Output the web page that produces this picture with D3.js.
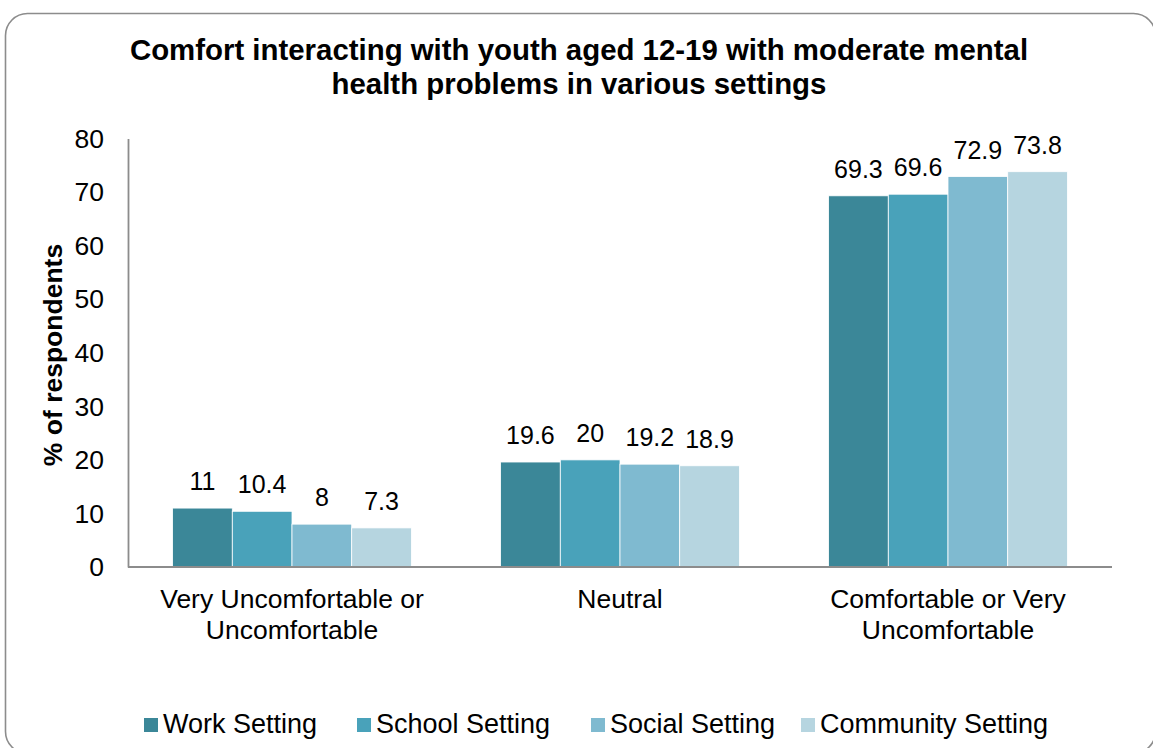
<!DOCTYPE html>
<html>
<head>
<meta charset="utf-8">
<script src="https://cdn.jsdelivr.net/npm/d3@7"></script>
<style>
  body { margin: 0; background: #fff; }
  text { font-family: "Liberation Sans", Arial, sans-serif; fill: #000; }
</style>
</head>
<body>
<svg id="chart" width="1153" height="748"></svg>
<script>
// categories, series and values
const categories = ["Very Uncomfortable or|Uncomfortable", "Neutral", "Comfortable or Very|Uncomfortable"]
const series = ["Work Setting", "School Setting", "Social Setting", "Community Setting"]
const work_values = [11, 19.6, 69.3]
const school_values = [10.4, 20, 69.6]
const social_values = [8, 19.2, 72.9]
const community_values = [7.3, 18.9, 73.8]
const y_ticks = [0, 10, 20, 30, 40, 50, 60, 70, 80]

const colors = ['#3b8798', '#49a2ba', '#7fbad0', '#b6d5e0']
const all_values = [work_values, school_values, social_values, community_values]

const svg = d3.select('#chart')

/* 外框 */
svg.append('rect')
    .attr('x', 5.5).attr('y', 13.5)
    .attr('width', 1150).attr('height', 740)
    .attr('rx', 22).attr('ry', 22)
    .attr('fill', 'none')
    .attr('stroke', '#8c8c8c')
    .attr('stroke-width', 1.6)

/* title */
svg.append('g')
    .selectAll('text')
    .data(['Comfort interacting with youth aged 12-19 with moderate mental', 'health problems in various settings'])
    .join('text')
    .attr('x', 579)
    .attr('y', (d, i) => 60 + i * 34)
    .attr('text-anchor', 'middle')
    .style('font-size', '29.4px')
    .style('font-weight', 'bold')
    .text(d => d)

const plot_left = 128, plot_right = 1112, plot_top = 138.5, plot_bottom = 567

const x0 = d3.scaleBand().domain(categories).range([plot_left, plot_right]).paddingInner(0).paddingOuter(0)
const bar_w = 59.7
const y = d3.scaleLinear().domain([0, 80]).range([plot_bottom, plot_top])

/* y axis */
const yAxis = svg.append('g')
    .attr('transform', `translate(${plot_left},0)`)
    .call(d3.axisLeft(y).tickValues(y_ticks).tickSize(0).tickPadding(24))
yAxis.select('.domain').attr('stroke', '#8c8c8c').attr('stroke-width', 1.8)
yAxis.selectAll('text')
    .style('font-size', '26.5px')
    .style('font-family', '"Liberation Sans", Arial, sans-serif')
    .attr('fill', '#000')
    .attr('dy', '0.33em')

/* bars */
const rows = []
categories.forEach((c, ci) => {
    all_values.forEach((vals, si) => {
        rows.push({ cat: c, s: si, v: vals[ci] })
    })
})

const bar_x = d => x0(d.cat) + x0.bandwidth() / 2 - 2 * bar_w + d.s * bar_w

svg.append('g')
    .selectAll('rect')
    .data(rows)
    .join('rect')
    .attr('x', bar_x)
    .attr('y', d => y(d.v))
    .attr('width', bar_w)
    .attr('height', d => y(0) - y(d.v))
    .attr('fill', d => colors[d.s])
    .attr('stroke', '#ffffff')
    .attr('stroke-width', 0.8)

/* value labels */
svg.append('g')
    .selectAll('text')
    .data(rows)
    .join('text')
    .attr('x', d => bar_x(d) + bar_w / 2)
    .attr('y', d => y(d.v) - 18)
    .attr('text-anchor', 'middle')
    .style('font-size', '25px')
    .text(d => d.v)

/* x axis line */
svg.append('line')
    .attr('x1', plot_left).attr('x2', plot_right)
    .attr('y1', y(0)).attr('y2', y(0))
    .attr('stroke', '#8c8c8c')
    .attr('stroke-width', 1.8)

/* category labels */
svg.append('g')
    .selectAll('text')
    .data(categories)
    .join('text')
    .attr('x', d => x0(d) + x0.bandwidth() / 2)
    .attr('y', 608)
    .attr('text-anchor', 'middle')
    .style('font-size', '26.5px')
    .selectAll('tspan')
    .data(d => d.split('|'))
    .join('tspan')
    .attr('x', function () { return d3.select(this.parentNode).attr('x') })
    .attr('dy', (d, i) => i == 0 ? 0 : 31)
    .text(d => d)

/* y title */
svg.append('text')
    .attr('transform', `translate(62,355) rotate(-90)`)
    .attr('text-anchor', 'middle')
    .style('font-size', '26.5px')
    .style('font-weight', 'bold')
    .text('% of respondents')

/* legend */
const legend_x = [144, 357, 591, 801]
const legend = svg.append('g')
    .selectAll('g')
    .data(series)
    .join('g')
    .attr('transform', (d, i) => `translate(${legend_x[i]},718)`)
legend.append('rect')
    .attr('width', 14).attr('height', 14)
    .attr('fill', (d, i) => colors[i])
legend.append('text')
    .attr('x', 19)
    .attr('y', 15)
    .style('font-size', '27px')
    .text(d => d)
</script>
</body>
</html>
